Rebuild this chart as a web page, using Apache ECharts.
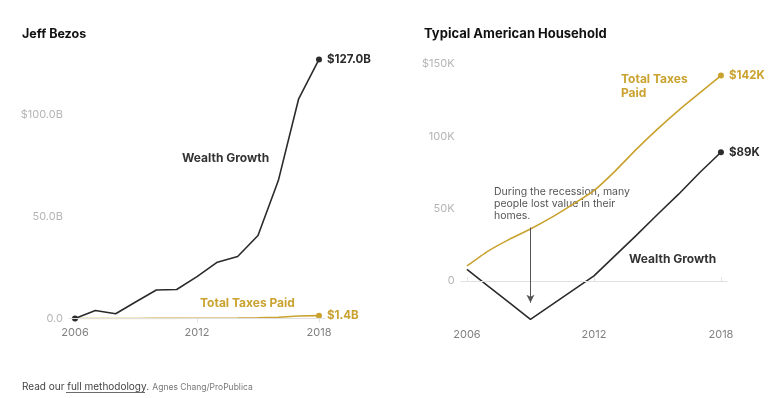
<!DOCTYPE html>
<html>
<head>
<meta charset="utf-8">
<script src="https://cdn.jsdelivr.net/npm/echarts@6/dist/echarts.min.js"></script>
<style>
  html, body { margin: 0; padding: 0; background: #fff; }
  #main { width: 770px; height: 398px; }
</style>
</head>
<body>
<div id="main"></div>
<script>
// years on both panels
const years = [2006, 2007, 2008, 2009, 2010, 2011, 2012, 2013, 2014, 2015, 2016, 2017, 2018];

// Jeff Bezos, billions of dollars
const bezosWealth = [0, 3.9, 2.3, 8.2, 14, 14.2, 20.5, 27.6, 30.4, 40.7, 67.6, 107.7, 127.0];
const bezosTaxes = [0, 0.01, 0.02, 0.03, 0.05, 0.07, 0.1, 0.15, 0.2, 0.3, 0.6, 1.2, 1.4];

// typical American household, thousands of dollars
const houseWealth = [8, -3.5, -15, -26.5, -16.5, -6.5, 3.5, 17.5, 31.5, 46, 60, 75, 89];
const houseTaxes = [10.4, 20.7, 28.8, 36, 44, 53, 62.5, 76, 91, 105, 118, 130, 142];

const bezosTicks = [0, 50, 100];
const houseTicks = [0, 50, 100, 150];
const yearTicks = [2006, 2012, 2018];

const DARK = '#2b2b2b';
const GOLD = '#c9a22f';
const FONT = 'Inter, "Noto Sans", sans-serif';

const pairs = (vals) => vals.map((v, i) => [years[i], v]);
const last = years.length - 1;

function lineSeries(idx, vals, color, fmt, dotFirst) {
  return {
    type: 'line',
    xAxisIndex: idx,
    yAxisIndex: idx,
    data: pairs(vals),
    smooth: color === GOLD && idx === 1 ? 0.2 : false,
    symbol: 'circle',
    symbolSize: (v, p) => (p.dataIndex === last || (dotFirst && p.dataIndex === 0)) ? 6 : 0,
    showAllSymbol: true,
    itemStyle: { color: color },
    lineStyle: { color: color, width: 1.6 },
    label: {
      show: true,
      position: 'right',
      distance: 5,
      fontFamily: FONT,
      fontWeight: 'bold',
      fontSize: 11.5,
      color: color,
      formatter: (p) => p.dataIndex === last ? fmt(p.value[1]) : ''
    },
    emphasis: { disabled: true },
    z: color === DARK ? 3 : 2
  };
}

function xAx(idx) {
  return {
    type: 'value',
    gridIndex: idx,
    min: 2005.7,
    max: 2018.3,
    axisLine: { show: false },
    splitLine: { show: false },
    axisTick: {
      show: true,
      customValues: yearTicks,
      length: 4,
      inside: idx === 1,
      lineStyle: { color: '#e2e2e2' }
    },
    axisLabel: {
      customValues: yearTicks,
      margin: idx === 0 ? 9 : 5,
      color: '#808080',
      fontFamily: FONT,
      fontSize: 11,
      formatter: (v) => String(v)
    }
  };
}

const zeroLine = {
  silent: true,
  symbol: 'none',
  label: { show: false },
  lineStyle: { color: '#e0e0e0', type: 'solid', width: 1 },
  data: [{ yAxis: 0 }]
};

const option = {
  animation: false,
  textStyle: { fontFamily: FONT },
  grid: [
    { left: 68.9, width: 256.2, top: 12.5, height: 306 },
    { left: 460.6, width: 266.7, top: 64, height: 260.4 }
  ],
  xAxis: [xAx(0), xAx(1)],
  yAxis: [
    {
      type: 'value', gridIndex: 0, min: 0, max: 150,
      axisLine: { show: false }, axisTick: { show: false }, splitLine: { show: false },
      axisLabel: {
        customValues: bezosTicks,
        margin: 6, color: '#b5b5b5', fontFamily: FONT, fontSize: 11,
        formatter: (v) => v === 100 ? '$100.0B' : (v === 0 ? '0.0' : v.toFixed(1) + 'B')
      }
    },
    {
      type: 'value', gridIndex: 1, min: -30, max: 150,
      axisLine: { show: false }, axisTick: { show: false }, splitLine: { show: false },
      axisLabel: {
        customValues: houseTicks,
        margin: 6, color: '#b5b5b5', fontFamily: FONT, fontSize: 11,
        formatter: (v) => v === 150 ? '$150K' : (v === 0 ? '0' : v + 'K')
      }
    }
  ],
  series: [
    Object.assign(lineSeries(0, bezosTaxes, GOLD, (v) => '$' + v.toFixed(1) + 'B', false), { markLine: zeroLine }),
    lineSeries(0, bezosWealth, DARK, (v) => '$' + v.toFixed(1) + 'B', true),
    Object.assign(lineSeries(1, houseTaxes, GOLD, (v) => '$' + v + 'K', false), { markLine: zeroLine }),
    Object.assign(lineSeries(1, houseWealth, DARK, (v) => '$' + v + 'K', false), {
      markLine: {
        silent: true,
        symbol: ['none', 'arrow'],
        symbolSize: [6, 8],
        label: { show: false },
        lineStyle: { color: '#555', type: 'solid', width: 1 },
        data: [[{ coord: [2009, 37] }, { coord: [2009, -15] }]]
      }
    })
  ],
  graphic: [
    { type: 'text', left: 22, top: 28, style: { text: 'Jeff Bezos', font: 'bold 12.5px ' + FONT, fill: '#111' } },
    { type: 'text', left: 424, top: 28, style: { text: 'Typical American Household', font: 'bold 13px ' + FONT, fill: '#111' } },
    { type: 'text', left: 182, top: 152, style: { text: 'Wealth Growth', font: 'bold 12px ' + FONT, fill: '#333' } },
    { type: 'text', left: 200, top: 297, style: { text: 'Total Taxes Paid', font: 'bold 12px ' + FONT, fill: GOLD } },
    { type: 'text', left: 621, top: 72, style: { text: 'Total Taxes\nPaid', font: 'bold 12px ' + FONT, fill: GOLD, lineHeight: 14 } },
    { type: 'text', left: 629, top: 253, style: { text: 'Wealth Growth', font: 'bold 12px ' + FONT, fill: '#333' } },
    {
      type: 'text', left: 494, top: 186,
      style: {
        text: 'During the recession, many\npeople lost value in their\nhomes.',
        font: '10.5px ' + FONT, fill: '#555', lineHeight: 12
      }
    },
    {
      type: 'text', left: 22, top: 381,
      style: {
        text: '{a|Read our full methodology.} {b|Agnes Chang/ProPublica}',
        rich: {
          a: { fontFamily: FONT, fontSize: 10, fill: '#444' },
          b: { fontFamily: FONT, fontSize: 8.5, fill: '#777' }
        }
      }
    },
    { type: 'line', shape: { x1: 66, y1: 392.5, x2: 145, y2: 392.5 }, style: { stroke: '#444', lineWidth: 0.8 } }
  ]
};

const chart = echarts.init(document.getElementById('main'));
chart.setOption(option);
</script>
</body>
</html>
